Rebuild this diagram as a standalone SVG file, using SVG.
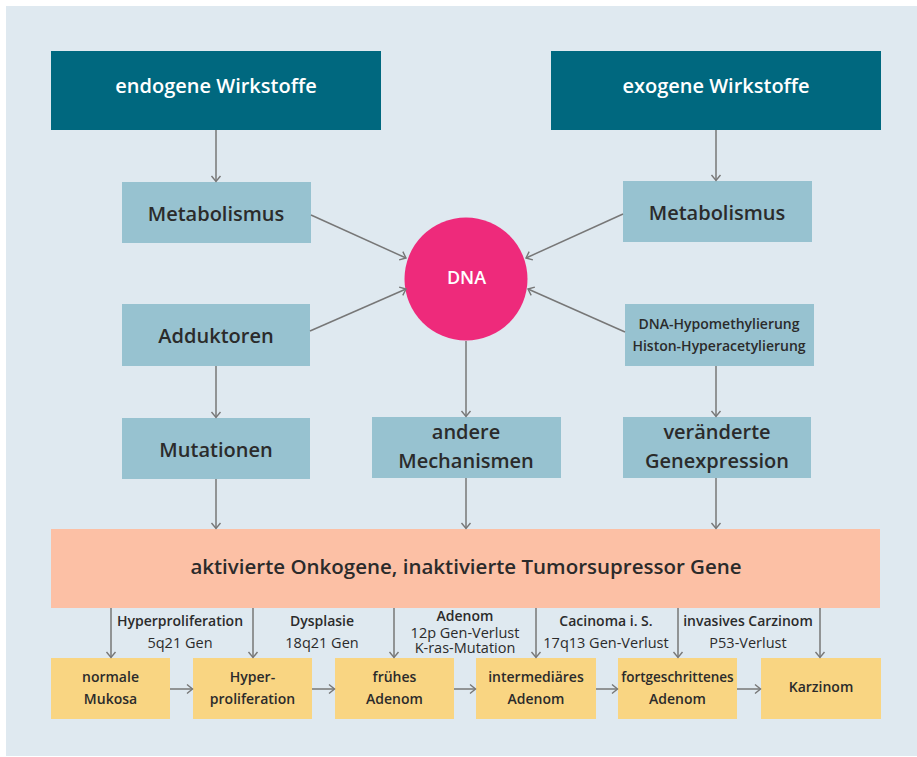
<svg xmlns="http://www.w3.org/2000/svg" width="917" height="757" viewBox="0 0 917 757">
<style>
text{font-family:"Open Sans","Noto Sans","Liberation Sans",sans-serif;font-weight:600;fill:#2b2b2b;text-anchor:middle}
.top{fill:#00687f}
.top-t{fill:#ffffff;font-size:20px}
.mid{fill:#97c2d0}
.mid-t{font-size:20px}
.sm-t{font-size:14px}
.onk{fill:#fcc0a5}
.onk-t{font-size:20.5px}
.yel{fill:#f9d582}
.yel-t{font-size:14px}
.lab{font-size:14px}
.lab2{font-size:14.5px;font-weight:400}
.lab3{font-size:14px}
.lab3r{font-size:14.5px;font-weight:400}
.con line{stroke:#777777;stroke-width:1.5;fill:none;marker-end:url(#arr)}
</style>
<defs>
<marker id="arr" viewBox="-7 -6 8 12" refX="0" refY="0" markerWidth="8" markerHeight="12" markerUnits="userSpaceOnUse" orient="auto">
<path d="M-5.5,-4.5 L0,0 L-5.5,4.5" fill="none" stroke="#777777" stroke-width="1.4"/>
</marker>
</defs>
<rect x="6" y="6" width="911" height="750" fill="#dfe9f0"/>

<g id="endogen"><rect class="top" x="51" y="51" width="330" height="79"/><text class="top-t" x="216" y="93">endogene Wirkstoffe</text></g>
<g id="exogen"><rect class="top" x="551" y="51" width="330" height="79"/><text class="top-t" x="716" y="93">exogene Wirkstoffe</text></g>
<g id="metab-l"><rect class="mid" x="122" y="182" width="189" height="61"/><text class="mid-t" x="216" y="221">Metabolismus</text></g>
<g id="metab-r"><rect class="mid" x="623" y="181" width="189" height="61"/><text class="mid-t" x="717" y="220">Metabolismus</text></g>
<g id="dna"><circle cx="466" cy="279" r="61.5" fill="#ee2a7b"/><text x="466.5" y="284" style="fill:#ffffff;font-size:18px">DNA</text></g>
<g id="addukt"><rect class="mid" x="122" y="304" width="188" height="62"/><text class="mid-t" x="216" y="343">Adduktoren</text></g>
<g id="hypo"><rect class="mid" x="625" y="304" width="189" height="62"/><text class="sm-t" x="719" y="329">DNA-Hypomethylierung</text><text class="sm-t" x="719" y="351">Histon-Hyperacetylierung</text></g>
<g id="mutat"><rect class="mid" x="122" y="418" width="188" height="61"/><text class="mid-t" x="216" y="457">Mutationen</text></g>
<g id="andere"><rect class="mid" x="372" y="417" width="189" height="61"/><text class="mid-t" x="466" y="439">andere</text><text class="mid-t" x="466" y="468">Mechanismen</text></g>
<g id="genexp"><rect class="mid" x="623" y="417" width="188" height="61"/><text class="mid-t" x="717" y="439">veränderte</text><text class="mid-t" x="717" y="468">Genexpression</text></g>
<g id="onko"><rect class="onk" x="51" y="529" width="829" height="79"/><text class="onk-t" x="466" y="574">aktivierte Onkogene, inaktivierte Tumorsupressor Gene</text></g>

<g id="mukosa"><rect class="yel" x="51" y="658" width="119" height="61"/><text class="yel-t" x="110.5" y="682">normale</text><text class="yel-t" x="110.5" y="704">Mukosa</text></g>
<g id="hyper"><rect class="yel" x="193" y="658" width="119" height="61"/><text class="yel-t" x="252.5" y="682">Hyper-</text><text class="yel-t" x="252.5" y="704">proliferation</text></g>
<g id="fruehes"><rect class="yel" x="335" y="658" width="119" height="61"/><text class="yel-t" x="394.5" y="682">frühes</text><text class="yel-t" x="394.5" y="704">Adenom</text></g>
<g id="intermed"><rect class="yel" x="476" y="658" width="120" height="61"/><text class="yel-t" x="536" y="682">intermediäres</text><text class="yel-t" x="536" y="704">Adenom</text></g>
<g id="fortg"><rect class="yel" x="618" y="658" width="119" height="61"/><text class="yel-t" x="677.5" y="682" style="font-size:13.5px">fortgeschrittenes</text><text class="yel-t" x="677.5" y="704">Adenom</text></g>
<g id="karzinom"><rect class="yel" x="761" y="658" width="120" height="61"/><text class="yel-t" x="821" y="692">Karzinom</text></g>

<g id="labels">
<text class="lab" x="180" y="626">Hyperproliferation</text>
<text class="lab2" x="180" y="648">5q21 Gen</text>
<text class="lab" x="322" y="626">Dysplasie</text>
<text class="lab2" x="322" y="648">18q21 Gen</text>
<text class="lab3" x="465" y="621">Adenom</text>
<text class="lab3r" x="465" y="637.5">12p Gen-Verlust</text>
<text class="lab3r" x="465" y="653">K-ras-Mutation</text>
<text class="lab" x="606" y="626">Cacinoma i. S.</text>
<text class="lab2" x="606" y="648">17q13 Gen-Verlust</text>
<text class="lab" x="748" y="626">invasives Carzinom</text>
<text class="lab2" x="748" y="648">P53-Verlust</text>
</g>

<g id="connectors" class="con">
<line x1="216" y1="130" x2="216" y2="181.5"/>
<line x1="716" y1="130" x2="716" y2="180.5"/>
<line x1="311" y1="215" x2="406" y2="258"/>
<line x1="623" y1="214" x2="526" y2="258"/>
<line x1="310" y1="331" x2="406" y2="289"/>
<line x1="625" y1="332" x2="528" y2="289"/>
<line x1="216" y1="366" x2="216" y2="417.5"/>
<line x1="466" y1="341" x2="466" y2="416.5"/>
<line x1="716" y1="366" x2="716" y2="416.5"/>
<line x1="216" y1="479" x2="216" y2="528.5"/>
<line x1="466" y1="478" x2="466" y2="528.5"/>
<line x1="716" y1="478" x2="716" y2="528.5"/>
<line x1="111" y1="608" x2="111" y2="657.5"/>
<line x1="253" y1="608" x2="253" y2="657.5"/>
<line x1="394" y1="608" x2="394" y2="657.5"/>
<line x1="536" y1="608" x2="536" y2="657.5"/>
<line x1="678" y1="608" x2="678" y2="657.5"/>
<line x1="820" y1="608" x2="820" y2="657.5"/>
<line x1="170" y1="689" x2="192.5" y2="689"/>
<line x1="312" y1="689" x2="334.5" y2="689"/>
<line x1="454" y1="689" x2="475.5" y2="689"/>
<line x1="596" y1="689" x2="617.5" y2="689"/>
<line x1="737" y1="689" x2="760.5" y2="689"/>
</g>
</svg>
